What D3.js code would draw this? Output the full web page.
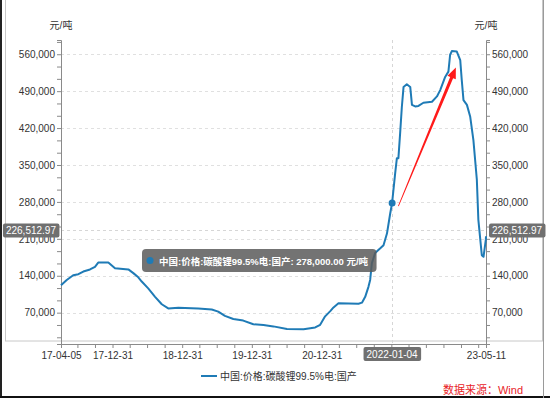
<!DOCTYPE html>
<html lang="zh">
<head>
<meta charset="utf-8" />
<title>碳酸锂价格</title>
<script src="https://cdn.jsdelivr.net/npm/d3@7"></script>
<style>
  body { margin: 0; background: #fff; }
  svg text { font-family: "Liberation Sans", Arial, "Noto Sans CJK SC", sans-serif; }
</style>
</head>
<body>
<script>

// 中国:价格:碳酸锂99.5%电:国产 (元/吨)
var dates = [
  "2017-04-05", "2017-05-05", "2017-06-08", "2017-07-05", "2017-07-31", "2017-09-04",
  "2017-09-30", "2017-10-17", "2017-12-09", "2018-01-13", "2018-03-24", "2018-04-19",
  "2018-05-15", "2018-06-02", "2018-07-06", "2018-08-11", "2018-09-15", "2018-10-19",
  "2018-12-11", "2019-03-25", "2019-06-04", "2019-07-08", "2019-08-12", "2019-09-25",
  "2019-11-16", "2020-01-08", "2020-03-01", "2020-04-22", "2020-07-02", "2020-09-27",
  "2020-11-27", "2020-12-23", "2021-01-18", "2021-02-14", "2021-03-03", "2021-03-29",
  "2021-07-12", "2021-07-30", "2021-08-16", "2021-09-02", "2021-09-11", "2021-09-20",
  "2021-10-07", "2021-11-03", "2021-11-20", "2021-12-08", "2021-12-25", "2022-01-04",
  "2022-01-20", "2022-01-29", "2022-02-06", "2022-02-15", "2022-02-24", "2022-03-05",
  "2022-03-22", "2022-04-09", "2022-04-18", "2022-05-05", "2022-05-22", "2022-06-17",
  "2022-08-01", "2022-08-27", "2022-09-13", "2022-10-09", "2022-10-26", "2022-11-04",
  "2022-11-13", "2022-12-09", "2022-12-27", "2023-01-04", "2023-01-13", "2023-01-31",
  "2023-02-17", "2023-03-06", "2023-03-24", "2023-04-01", "2023-04-19", "2023-04-28",
  "2023-05-10", "2023-05-11"
];
var prices = [
  122000, 132000, 141000, 143000, 148000, 152000,
  157000, 165000, 165000, 154000, 152000, 145000,
  137000, 129000, 116000, 100000, 86000, 78000,
  79500, 78000, 76000, 72000, 64000, 58000,
  55000, 48000, 46500, 44000, 39000, 38500,
  42000, 47000, 63000, 73000, 80000, 88000,
  87000, 89000, 100000, 119000, 132000, 164000,
  183000, 192000, 198000, 220000, 258000, 278000,
  334000, 363000, 363000, 410000, 460000, 498000,
  503000, 498000, 464000, 461000, 462000, 468000,
  470000, 480000, 492000, 517000, 527000, 559000,
  566000, 565000, 549000, 511000, 473000, 464000,
  442000, 397000, 322000, 246000, 179000, 176000,
  208000, 215000
];

var seriesName = "中国:价格:碳酸锂99.5%电:国产";
var unit = "元/吨";
var yTicks = [70000, 140000, 210000, 280000, 350000, 420000, 490000, 560000];
var xLabelDates = ["2017-04-05", "2017-12-31", "2018-12-31", "2019-12-31", "2020-12-31", "2023-05-11"];
var pointerDate = "2022-01-04";
var pointerValue = 278000;
var pointerY = 226512.97;
var arrowFrom = {date: "2022-02-06", value: 272000};
var arrowTo = {date: "2022-12-04", value: 535000};
var source = "数据来源：Wind";

var w = 550, h = 398;
var pad = {left: 61, right: 64, top: 40, bottom: 54};
var parse = d3.timeParse("%Y-%m-%d");
var data = dates.map(function(d, i) { return {date: parse(d), value: prices[i]}; });

var blue = "#1f7bb6";
var axisColor = "#8a8a8a";

var xScale = d3.scaleTime()
               .domain([parse(dates[0]), parse(dates[dates.length - 1])])
               .range([pad.left, w - pad.right]);
var yScale = d3.scaleLinear()
               .domain([10600, 587000])
               .range([h - pad.bottom, pad.top]);

var svg = d3.select("body").append("svg")
            .attr("width", w)
            .attr("height", h);

// frame
svg.append("rect").attr("x", 5.5).attr("y", -1).attr("width", 537).attr("height", 342)
   .attr("fill", "none").attr("stroke", "#c8c8c8");
svg.append("line").attr("x1", 1).attr("x2", 1).attr("y1", 0).attr("y2", h).attr("stroke", "#222").attr("stroke-width", 2);
svg.append("line").attr("x1", 0).attr("x2", w).attr("y1", 397).attr("y2", 397).attr("stroke", "#111").attr("stroke-width", 2);
svg.append("line").attr("x1", 543.5).attr("x2", 543.5).attr("y1", 0).attr("y2", h).attr("stroke", "#9a9a9a");

// grid
svg.append("g").selectAll("line").data(yTicks).enter().append("line")
   .attr("x1", pad.left).attr("x2", w - pad.right)
   .attr("y1", function(d) { return Math.round(yScale(d)) + 0.5; })
   .attr("y2", function(d) { return Math.round(yScale(d)) + 0.5; })
   .attr("stroke", "#e0e0e0").attr("stroke-dasharray", "3,3");

// crosshair
var px = Math.round(xScale(parse(pointerDate))) + 0.5;
var py = Math.round(yScale(pointerY)) + 0.5;
svg.append("line").attr("x1", px).attr("x2", px).attr("y1", pad.top).attr("y2", h - pad.bottom)
   .attr("stroke", "#d6d6d6").attr("stroke-dasharray", "3,3");
svg.append("line").attr("x1", pad.left).attr("x2", w - pad.right).attr("y1", py).attr("y2", py)
   .attr("stroke", "#d6d6d6").attr("stroke-dasharray", "3,3");

// axes
var minorTicks = d3.range(1, 26).map(function(i) { return i * 70000 / 3; });
var yAxisL = d3.axisLeft(yScale).tickValues(minorTicks).tickSize(4)
               .tickFormat(function(d) { return Math.abs(d % 70000) < 1 || Math.abs(d % 70000 - 70000) < 1 ? d3.format(",")(Math.round(d)) : ""; });
var yAxisR = d3.axisRight(yScale).tickValues(minorTicks).tickSize(4)
               .tickFormat(yAxisL.tickFormat());

// quarter-end ticks: day before Jan/Apr/Jul/Oct 1st
var quarterTicks = d3.timeMonth.every(3).range(parse("2017-06-01"), parse("2023-05-01"))
                     .map(function(d) { return d3.timeDay.offset(d, -1); });
quarterTicks = [xScale.domain()[0]].concat(quarterTicks).concat([xScale.domain()[1]]);
var labelSet = xLabelDates.map(function(d) { return +parse(d); });
var xAxis = d3.axisBottom(xScale).tickValues(quarterTicks).tickSize(4)
              .tickFormat(function(d) { return labelSet.indexOf(+d) >= 0 ? d3.timeFormat("%y-%m-%d")(d) : ""; });

function styleAxis(g) {
  g.select(".domain").attr("stroke", axisColor);
  g.selectAll(".tick line").attr("stroke", axisColor);
  g.selectAll(".tick text").attr("fill", "#333").attr("font-size", "10px");
}

svg.append("g").attr("transform", "translate(" + pad.left + ",0)").call(yAxisL).call(styleAxis)
   .selectAll(".tick text").attr("x", -6);
svg.append("g").attr("transform", "translate(" + (w - pad.right) + ",0)").call(yAxisR).call(styleAxis)
   .selectAll(".tick text").attr("x", 6);
svg.append("g").attr("transform", "translate(0," + (h - pad.bottom) + ")").call(xAxis).call(styleAxis)
   .selectAll(".tick text").attr("y", 8);

// unit labels
svg.append("text").attr("x", pad.left).attr("y", 29).attr("text-anchor", "middle")
   .attr("font-size", "10px").attr("fill", "#333").text(unit);
svg.append("text").attr("x", w - pad.right).attr("y", 29).attr("text-anchor", "middle")
   .attr("font-size", "10px").attr("fill", "#333").text(unit);

// line
var line = d3.line()
             .x(function(d) { return xScale(d.date); })
             .y(function(d) { return yScale(d.value); });
svg.append("path").datum(data)
   .attr("d", line)
   .attr("fill", "none")
   .attr("stroke", blue)
   .attr("stroke-width", 2)
   .attr("stroke-linejoin", "round");

// pointer dot
svg.append("circle").attr("cx", xScale(parse(pointerDate))).attr("cy", yScale(pointerValue))
   .attr("r", 3.5).attr("fill", blue);

// red arrow
(function() {
  var x0 = xScale(parse(arrowFrom.date)), y0 = yScale(arrowFrom.value);
  var x1 = xScale(parse(arrowTo.date)), y1 = yScale(arrowTo.value);
  var dx = x1 - x0, dy = y1 - y0, len = Math.sqrt(dx * dx + dy * dy);
  var ux = dx / len, uy = dy / len, nx = -uy, ny = ux;
  var headLen = 11, headW = 4.5, tailW = 0.4, neckW = 1.6;
  var bx = x1 - ux * headLen, by = y1 - uy * headLen;
  var pts = [
    [x0 + nx * tailW, y0 + ny * tailW],
    [bx + nx * neckW, by + ny * neckW],
    [bx + nx * headW, by + ny * headW],
    [x1, y1],
    [bx - nx * headW, by - ny * headW],
    [bx - nx * neckW, by - ny * neckW],
    [x0 - nx * tailW, y0 - ny * tailW]
  ];
  svg.append("polygon").attr("points", pts.map(function(p) { return p.join(","); }).join(" "))
     .attr("fill", "#ff1a1a");
})();

// axis pointer labels
function pointerLabel(x, y, text, anchor) {
  var g = svg.append("g");
  var t = g.append("text").attr("x", x).attr("y", y + 3.5).attr("text-anchor", anchor)
           .attr("font-size", "10px").attr("fill", "#fff").text(text);
  var bb = t.node().getBBox();
  g.insert("rect", "text").attr("x", bb.x - 3).attr("y", y - 7).attr("width", bb.width + 6).attr("height", 14)
   .attr("rx", 2).attr("fill", "#707070");
}
pointerLabel(pad.left - 5, py, d3.format(",.2f")(pointerY), "end");
pointerLabel(w - pad.right + 6, py, d3.format(",.2f")(pointerY), "start");
pointerLabel(xScale(parse(pointerDate)), h - pad.bottom + 10, pointerDate, "middle");

// tooltip
var tip = svg.append("g").attr("transform", "translate(142,249)");
var tipRect = tip.append("rect").attr("height", 23).attr("rx", 4)
   .attr("fill", "rgba(90,90,90,0.85)");
tip.append("circle").attr("cx", 8).attr("cy", 11.5).attr("r", 3.5).attr("fill", blue);
var tipText = tip.append("text").attr("x", 17).attr("y", 15.5).attr("font-size", "9.5px").attr("font-weight", "bold")
   .attr("fill", "#fff")
   .text(seriesName + ": " + d3.format(",.2f")(pointerValue) + "  " + unit);
tipRect.attr("width", tipText.node().getBBox().width + 25);

// legend
svg.append("line").attr("x1", 201).attr("x2", 217).attr("y1", 376).attr("y2", 376)
   .attr("stroke", blue).attr("stroke-width", 2);
svg.append("text").attr("x", 220).attr("y", 379.5).attr("font-size", "10px").attr("fill", "#333")
   .text(seriesName);

// source
svg.append("text").attr("x", 523).attr("y", 394).attr("text-anchor", "end")
   .attr("font-size", "11px").attr("fill", "#e8231f").text(source);

</script>
</body>
</html>
